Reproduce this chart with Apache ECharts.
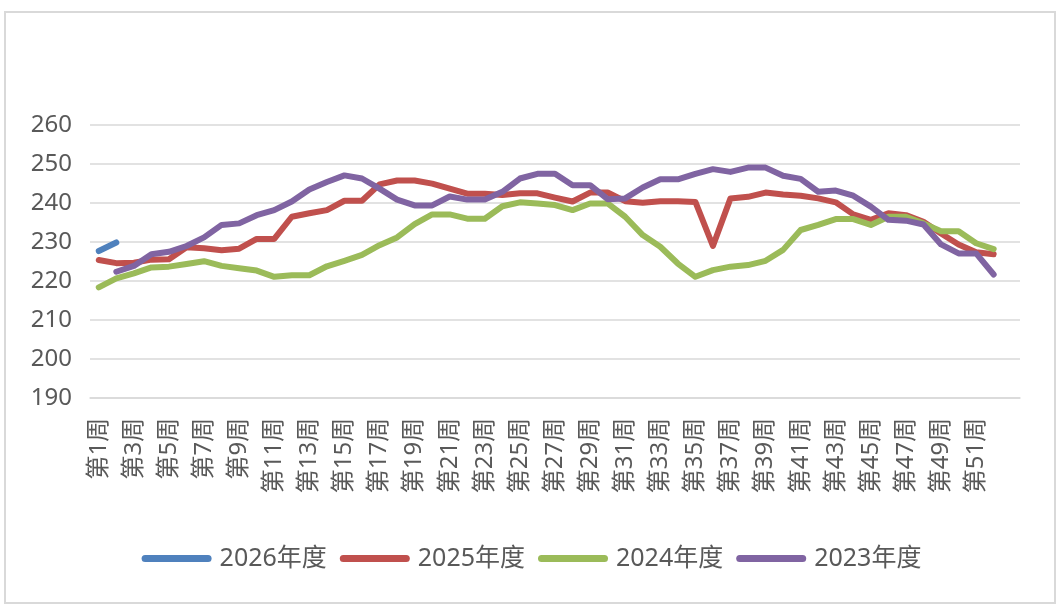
<!DOCTYPE html>
<html>
<head>
<meta charset="utf-8">
<script src="https://cdn.jsdelivr.net/npm/echarts@6/dist/echarts.min.js"></script>
<style>
html,body{margin:0;padding:0;background:#fff;}
#chart{width:1063px;height:611px;}
</style>
</head>
<body>
<div id="chart"></div>
<script>
var weeks = ['第1周','第2周','第3周','第4周','第5周','第6周','第7周','第8周','第9周','第10周',
  '第11周','第12周','第13周','第14周','第15周','第16周','第17周','第18周','第19周','第20周',
  '第21周','第22周','第23周','第24周','第25周','第26周','第27周','第28周','第29周','第30周',
  '第31周','第32周','第33周','第34周','第35周','第36周','第37周','第38周','第39周','第40周',
  '第41周','第42周','第43周','第44周','第45周','第46周','第47周','第48周','第49周','第50周',
  '第51周','第52周',''];
var yTicks = [190, 200, 210, 220, 230, 240, 250, 260];
var seriesNames = ['2026年度','2025年度','2024年度','2023年度'];
var s2026 = [227.6, 229.8];
var s2025 = [225.3,224.5,224.6,225.4,225.5,228.6,228.3,227.8,228.2,230.7,
  230.7,236.4,237.3,238.1,240.5,240.5,244.7,245.7,245.7,244.9,
  243.6,242.3,242.3,242.0,242.4,242.4,241.3,240.3,242.6,242.6,
  240.4,240.0,240.4,240.4,240.2,228.9,241.1,241.5,242.6,242.1,
  241.8,241.1,240.1,237.0,235.6,237.3,236.8,235.1,232.1,229.3,
  227.3,226.8];
var s2024 = [218.3,220.6,221.9,223.4,223.6,224.3,225.0,223.8,223.2,222.6,
  221.0,221.4,221.4,223.7,225.1,226.6,229.1,231.1,234.5,237.0,
  237.0,235.9,235.9,239.1,240.1,239.8,239.4,238.1,239.8,239.8,
  236.4,231.7,228.7,224.4,221.0,222.7,223.6,224.0,225.1,227.9,
  233.0,234.3,235.8,235.8,234.3,236.4,236.4,234.7,232.7,232.7,
  229.6,228.1];
var s2023 = [null,222.3,223.8,226.8,227.4,228.9,231.1,234.3,234.7,236.8,
  238.1,240.3,243.4,245.3,247.0,246.2,243.6,240.8,239.3,239.3,
  241.6,240.8,240.8,242.8,246.2,247.4,247.4,244.5,244.5,240.9,
  241.1,243.9,246.0,246.0,247.4,248.6,247.9,249.0,249.0,246.9,
  246.1,242.8,243.1,241.8,239.0,235.6,235.4,234.4,229.3,227.0,
  227.0,221.6];
var colors = ['#4F81BD','#C0504D','#9BBB59','#8064A2'];
var seriesData = [s2026, s2025, s2024, s2023];

var chart = echarts.init(document.getElementById('chart'));
var pill = 'path://M3.5,0 L66.5,0 A3.5,3.5 0 0 1 66.5,7 L3.5,7 A3.5,3.5 0 0 1 3.5,0 Z';
chart.setOption({
  animation: false,
  color: colors,
  graphic: [{
    type: 'rect',
    shape: {x: 5, y: 12, width: 1050, height: 591},
    style: {fill: 'none', stroke: '#d9d9d9', lineWidth: 2},
    silent: true, z: -1
  }],
  grid: {left: 90, right: 43, top: 124.7, bottom: 213.3},
  legend: {
    data: seriesNames.map(function(n){ return {name: n, icon: pill}; }),
    left: 'center',
    top: 541,
    itemWidth: 70,
    itemHeight: 7,
    itemGap: 13,
    textStyle: {color: '#595959', fontSize: 25, fontFamily: 'Noto Sans, Noto Sans CJK SC', padding: [0,0,0,3]}
  },
  xAxis: {
    type: 'category',
    data: weeks,
    boundaryGap: true,
    axisTick: {show: false},
    axisLine: {show: true, lineStyle: {color: '#d9d9d9', width: 1.5}},
    axisLabel: {
      interval: 1, rotate: 90, margin: 20,
      color: '#595959', fontSize: 24,
      fontFamily: 'Noto Sans, Noto Sans CJK SC'
    }
  },
  yAxis: {
    type: 'value',
    min: yTicks[0], max: yTicks[yTicks.length - 1], interval: 10,
    axisLine: {show: false},
    axisTick: {show: false},
    splitLine: {lineStyle: {color: '#d9d9d9', width: 1.5}},
    axisLabel: {color: '#595959', fontSize: 24, margin: 18, fontFamily: 'Noto Sans'}
  },
  series: seriesNames.map(function(n, i){
    return {
      name: n, type: 'line', data: seriesData[i],
      symbol: 'none', connectNulls: false,
      lineStyle: {width: 6, color: colors[i], cap: 'round', join: 'round'},
      itemStyle: {color: colors[i]}
    };
  })
});
</script>
</body>
</html>
